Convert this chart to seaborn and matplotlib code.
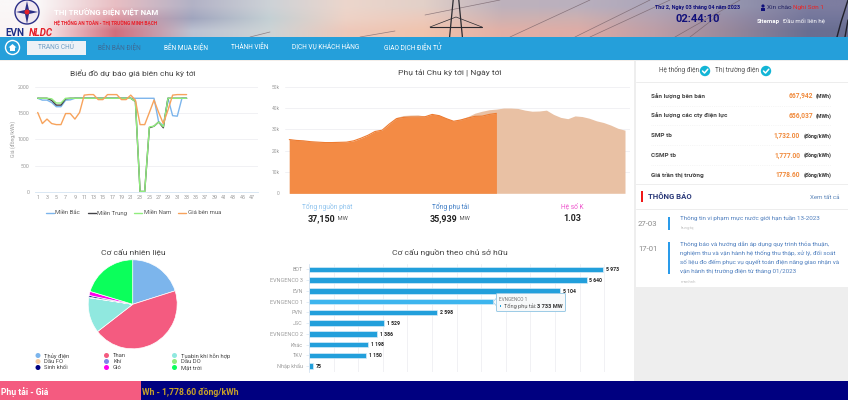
import numpy as np
import pandas as pd
import matplotlib
matplotlib.use("Agg")
import matplotlib.pyplot as plt
import seaborn as sns
from matplotlib.lines import Line2D
from matplotlib.patches import Rectangle, Circle, Polygon, FancyBboxPatch

# ==========================================================
# DATA
# ==========================================================

periods = list(range(1, 34))
mien_bac = [1780, 1745, 1745, 1700, 1620, 1620, 1745, 1750, 1780, 1780, 1780, 1780, 1780, 1780, 1780, 1780, 1780,
            1780, 1780, 1780, 1780, 1780, 1780, 1780, 1780, 1780, 1330, 1260, 1780, 1450, 1440, 1780, 1780]
mien_trung = [1780, 1780, 1780, 1740, 1650, 1650, 1770, 1780, 1780, 1780, 1780, 1780, 1780, 1780, 1780, 1780, 1780,
              1780, 1780, 1780, 1780, 1720, 10, 10, 1220, 1250, 1330, 1220, 1780, 1780, 1780, 1780, 1780]
mien_nam = [1780, 1780, 1780, 1770, 1690, 1690, 1780, 1780, 1780, 1780, 1780, 1780, 1780, 1780, 1780, 1780, 1780,
            1780, 1780, 1780, 1780, 1720, 10, 10, 1235, 1250, 1330, 1240, 1780, 1780, 1780, 1780, 1780]
gia_ben_mua = [1510, 1300, 1385, 1300, 1280, 1280, 1490, 1490, 1385, 1510, 1840, 1850, 1850, 1755, 1755, 1850, 1850,
               1850, 1755, 1755, 1840, 1745, 1280, 1280, 1510, 1745, 1510, 1300, 1555, 1840, 1850, 1850, 1850]
price_ticks = [1, 3, 5, 7, 9, 11, 13, 15, 17, 19, 21, 23, 25, 27, 29, 31, 33, 35, 37, 39, 41, 43, 45, 47]

load_forecast = [25.4, 25.0, 24.8, 24.4, 24.1, 24.0, 23.9, 24.0, 24.1, 24.2, 25.0, 27.2, 29.0, 29.6, 32.5, 35.6, 36.5,
                 36.7, 36.8, 36.2, 37.0, 36.6, 35.2, 34.0, 34.8, 36.0, 37.6, 38.5, 39.2, 39.5, 40.0, 40.0, 39.8, 39.0,
                 38.5, 38.6, 39.0, 37.0, 35.6, 35.0, 36.3, 36.0, 35.2, 34.0, 33.2, 32.0, 30.5, 29.6]
load_actual = [25.2, 24.8, 24.6, 24.2, 24.0, 23.8, 23.8, 23.9, 24.0, 24.6, 25.8, 27.2, 29.0, 29.6, 32.5, 35.0, 35.6,
               35.8, 35.8, 35.9, 37.0, 36.4, 35.0, 33.8, 34.4, 35.3, 36.1, 36.2, 37.0, 37.5]

fuel_labels = ["Thủy điện", "Than", "Tuabin khí hỗn hợp", "Dầu FO", "Khí", "Dầu DO", "Sinh khối", "Gió", "Mặt trời"]
fuel_values = [20.1, 44.4, 12.9, 0.0, 0.2, 0.0, 0.6, 1.5, 20.3]
fuel_colors = ["#7CB5EC", "#F45B80", "#90E8DF", "#F7CBA0", "#8085E9", "#90ED7D", "#000080", "#FF00EE", "#0BFF5B"]

owners = ["BOT", "EVNGENCO 3", "EVN", "EVNGENCO 1", "PVN", "JSC", "EVNGENCO 2", "Khác", "TKV", "Nhập khẩu"]
owner_mw = [5973, 5640, 5104, 3733, 2598, 1529, 1386, 1198, 1150, 75]
owner_text = ["5 973", "5 640", "5 104", "", "2 598", "1 529", "1 386", "1 198", "1 150", "75"]

market_rows = [("Sản lượng bên bán", "667,942", "(MWh)"), ("Sản lượng các cty điện lực", "656,037", "(MWh)"),
               ("SMP tb", "1,732.00", "(đồng/kWh)"), ("CSMP tb", "1,777.00", "(đồng/kWh)"),
               ("Giá trần thị trường", "1778.60", "(đồng/kWh)")]
nav_items = [("BÊN BÁN ĐIỆN", 119, "#3E6A95"), ("BÊN MUA ĐIỆN", 186, "white"), ("THÀNH VIÊN", 250, "white"),
             ("DỊCH VỤ KHÁCH HÀNG", 326, "white"), ("GIAO DỊCH ĐIỆN TỬ", 413, "white")]

# ==========================================================
# SETUP
# ==========================================================

W, H = 848, 400
sns.set_theme(style="white")
plt.rcParams["font.family"] = ["Roboto", "DejaVu Sans"]
GRID = "#EFEFF2"
TICK = "#9A9A9A"

fig = plt.figure(figsize=(W / 100, H / 100), dpi=100, facecolor="white")


def px_axes(x0, y0, x1, y1):
    ax = fig.add_axes([x0 / W, 1 - y1 / H, (x1 - x0) / W, (y1 - y0) / H])
    ax.patch.set_alpha(0)
    return ax


# page layer in pixel coordinates
bg = px_axes(0, 0, W, H)
bg.set_xlim(0, W)
bg.set_ylim(H, 0)
bg.axis("off")

# ----------------------------------------------------------
# header
# ----------------------------------------------------------
photo = np.array([
    [[250, 248, 248], [232, 190, 195], [178, 178, 198], [205, 210, 215], [236, 214, 204], [226, 208, 200], [190, 178, 188],
     [186, 176, 190], [172, 166, 186], [150, 150, 175], [125, 125, 160]],
    [[250, 246, 246], [222, 150, 160], [160, 165, 190], [196, 208, 212], [238, 210, 198], [236, 202, 188], [206, 178, 178],
     [206, 176, 176], [182, 162, 176], [150, 140, 165], [115, 118, 155]],
    [[250, 244, 244], [210, 110, 125], [190, 195, 210], [205, 212, 214], [238, 200, 186], [240, 196, 174], [226, 176, 166],
     [222, 172, 166], [190, 158, 166], [150, 135, 155], [105, 110, 145]],
], dtype=float) / 255
bg.imshow(photo, extent=(0, W, 37, 0), aspect="auto", interpolation="bilinear", zorder=0)
bg.set_xlim(0, W)
bg.set_ylim(H, 0)

for x0, y0, x1, y1 in [(510, 37, 590, 0), (575, 37, 650, 0), (590, 37, 670, 0), (675, 37, 740, 0),
                       (425, 15, 500, 0), (250, 37, 270, 32), (360, 37, 395, 31), (690, 37, 720, 14)]:
    bg.add_line(Line2D([x0, x1], [y0, y1], color="#6E5A62", lw=0.5, alpha=0.7, zorder=1))
for off in (-4, 4):
    bg.add_line(Line2D([456 + off * 1.6, 456 + off * 0.7], [37, 0], color="#2A2A30", lw=0.9, zorder=1))
bg.add_line(Line2D([430, 482], [27, 27], color="#2A2A30", lw=0.8, zorder=1))
bg.add_line(Line2D([430, 456, 482], [27, 17, 27], color="#2A2A30", lw=0.5, zorder=1))
bg.add_line(Line2D([837, 841, 848], [37, 22, 0], color="#20202A", lw=1.0, zorder=1))
bg.add_line(Line2D([845, 848], [37, 20], color="#20202A", lw=1.0, zorder=1))

bg.add_patch(Circle((27, 12), 12, fc="#F0E8F0", ec="#2B2F86", lw=1.0, zorder=2))
bg.add_patch(Polygon([(27, 1), (29, 10), (38, 12), (29, 14), (27, 24), (25, 14), (16, 12), (25, 10)],
                     fc="#2B2F86", ec="none", zorder=3))
bg.add_patch(Circle((27, 12), 2.5, fc="#E3202A", ec="none", zorder=4))
bg.text(5, 33, "EVN", color="#1F2F86", fontsize=7.2, fontweight="bold", va="center", zorder=3)
bg.text(29, 33, "NLDC", color="#E3202A", fontsize=7.0, fontweight="bold", style="italic", va="center", zorder=3)
bg.text(54, 12.5, "THỊ TRƯỜNG ĐIỆN VIỆT NAM", color="white", fontsize=5.7, fontweight="bold", va="center", zorder=3)
bg.text(54, 22.5, "HỆ THỐNG AN TOÀN - THỊ TRƯỜNG MINH BẠCH", color="#E8202A", fontsize=3.4, fontweight="bold",
        va="center", zorder=3)

bg.text(698, 8, "Thứ 2, Ngày 03 tháng 04 năm 2023", color="#10107A", fontsize=3.9, fontweight="bold", ha="center",
        va="center", zorder=3)
bg.text(698, 18.5, "02:44:10", color="#10107A", fontsize=8.0, fontweight="bold", ha="center", va="center", zorder=3)
bg.text(767, 7.5, "Xin chào", color="#202060", fontsize=4.6, va="center", zorder=3)
bg.text(793, 7.5, "Nghi Sơn 1", color="#F02020", fontsize=4.6, va="center", zorder=3)
bg.text(757, 21.5, "Sitemap", color="white", fontsize=4.4, fontweight="bold", va="center", zorder=3)
bg.text(783, 21.5, "Đầu mối liên hệ", color="white", fontsize=4.4, va="center", zorder=3)
bg.add_patch(Circle((763, 6), 1.6, fc="#10107A", ec="none", zorder=3))
bg.add_patch(Rectangle((761, 8), 4, 2.5, fc="#10107A", ec="none", zorder=3))

# ----------------------------------------------------------
# nav bar
# ----------------------------------------------------------
bg.add_patch(Rectangle((0, 37), W, 22.5, fc="#259FDA", ec="none", zorder=1))
bg.add_patch(Circle((12.5, 47.5), 7, fc="#259FDA", ec="white", lw=1.0, zorder=2))
bg.add_patch(Polygon([(8.5, 47.5), (12.5, 44), (16.5, 47.5), (15, 47.5), (15, 51), (10, 51), (10, 47.5)],
                     fc="white", ec="none", zorder=3))
bg.add_patch(Rectangle((26.5, 41), 59.5, 14, fc="#EDF1F6", ec="none", zorder=2))
bg.text(56, 47.5, "TRANG CHỦ", color="#6D9CC4", fontsize=4.7, ha="center", va="center", zorder=3)
for label, x, color in nav_items:
    bg.text(x, 47.5, label, color=color, fontsize=4.7, ha="center", va="center", zorder=3)

# ----------------------------------------------------------
# right column and footer
# ----------------------------------------------------------
bg.add_patch(Rectangle((0, 59.5), W, 1.5, fc="#F3EEEA", ec="none", zorder=1))
bg.add_patch(Rectangle((634, 60), 214, 321, fc="#EEEEEE", ec="none", zorder=1))
bg.add_patch(Rectangle((636, 61), 212, 122.5, fc="white", ec="none", zorder=2))
bg.add_patch(Rectangle((636, 185), 212, 102, fc="white", ec="none", zorder=2))

bg.text(659, 70.5, "Hệ thống điện", color="#555555", fontsize=4.7, va="center", zorder=3)
bg.text(715, 70.5, "Thị trường điện", color="#555555", fontsize=4.7, va="center", zorder=3)
for cx in (705, 766):
    bg.add_patch(Circle((cx, 71), 5.2, fc="#12B5D6", ec="none", zorder=3))
    bg.add_line(Line2D([cx - 2.5, cx - 0.5, cx + 2.8], [71, 73, 69.2], color="white", lw=1.1, zorder=4))
bg.add_line(Line2D([636, 848], [81.5, 81.5], color="#EDEDED", lw=0.7, zorder=3))

for i, (name, value, unit) in enumerate(market_rows):
    y = 95.7 + i * 19.8
    bg.text(651, y, name, color="#444444", fontsize=4.6, fontweight="bold", va="center", zorder=3)
    bg.text(831, y + 0.5, unit, color="#333333", fontsize=3.8, fontweight="bold", ha="right", va="center", zorder=3)
    unit_w = 18 if "MWh" in unit else 31
    bg.text(831 - unit_w, y + 0.5, value, color="#F08A3C", fontsize=4.8, fontweight="bold", ha="right", va="center",
            zorder=3)
    if i < 4:
        bg.add_line(Line2D([651, 831], [y + 9.8, y + 9.8], color="#EEEEEE", lw=0.5, ls=":", zorder=3))

bg.add_patch(Rectangle((641, 191), 2, 11, fc="#F01818", ec="none", zorder=3))
bg.text(647.5, 196.5, "THÔNG BÁO", color="#2B3A7A", fontsize=5.6, fontweight="bold", va="center", zorder=3)
bg.text(839, 197.5, "Xem tất cả", color="#5A84B8", fontsize=4.4, ha="right", va="center", zorder=3)
bg.add_line(Line2D([636, 848], [209, 209], color="#EDEDED", lw=0.7, zorder=3))
bg.text(638, 224, "27-03", color="#8A8A8A", fontsize=5.6, va="center", zorder=3)
bg.text(638, 249, "17-01", color="#8A8A8A", fontsize=5.6, va="center", zorder=3)
bg.add_patch(Rectangle((668, 217), 1.6, 12.5, fc="#2A9BEA", ec="none", zorder=3))
bg.add_patch(Rectangle((668, 242), 1.6, 32, fc="#2A9BEA", ec="none", zorder=3))
news = ["Thông tin vi phạm mực nước giới hạn tuần 13-2023", "Thông báo và hướng dẫn áp dụng quy trình thỏa thuận,",
        "nghiệm thu và vận hành hệ thống thu thập, xử lý, đối soát", "số liệu đo đếm phục vụ quyết toán điện năng giao nhận và",
        "vận hành thị trường điện từ tháng 01/2023"]
for line, y in zip(news, [218.5, 244, 253, 262, 271.5]):
    bg.text(680.5, y, line, color="#4F7FBE", fontsize=4.5, va="center", zorder=3)
bg.text(680.5, 228, "hungtq", color="#C4C4C4", fontsize=3.2, va="center", zorder=3)
bg.text(680.5, 282, "manhnh", color="#C4C4C4", fontsize=3.2, va="center", zorder=3)

bg.add_patch(Rectangle((0, 381), W, 19, fc="#000080", ec="none", zorder=2))
bg.add_patch(Rectangle((0, 381), 140.5, 19, fc="#F45B80", ec="none", zorder=3))
bg.text(1, 392, "Phụ tải - Giá", color="white", fontsize=6.2, fontweight="bold", va="center", zorder=4)
bg.text(141.5, 392, "Wh - 1,778.60 đồng/kWh", color="#C9A227", fontsize=6.2, fontweight="bold", va="center", zorder=4)

# ==========================================================
# PRICE FORECAST
# ==========================================================

ax1 = px_axes(35, 86.7, 258, 192)
price_df = pd.DataFrame({"period": periods, "Miền Bắc": mien_bac, "Miền Trung": mien_trung, "Miền Nam": mien_nam,
                         "Giá bên mua": gia_ben_mua}).melt("period", var_name="vung", value_name="gia")
price_colors = {"Miền Bắc": "#7CB5EC", "Miền Trung": "#434348", "Miền Nam": "#90ED7D", "Giá bên mua": "#F7A35C"}
sns.lineplot(data=price_df, x="period", y="gia", hue="vung", palette=price_colors, linewidth=1.0, ax=ax1, legend=False,
             errorbar=None)
ax1.set_xlim(0.42, 48.35)
ax1.set_ylim(0, 2000)
ax1.set_xticks(price_ticks)
ax1.set_yticks([0, 500, 1000, 1500, 2000])
ax1.tick_params(axis="x", labelsize=3.9, colors=TICK, length=0, pad=2)
ax1.tick_params(axis="y", labelsize=3.9, colors=TICK, length=0, pad=4)
ax1.grid(axis="y", color=GRID, lw=0.6)
ax1.set_axisbelow(True)
ax1.set_xlabel("")
ax1.set_ylabel("Giá (đồng/kWh)", fontsize=3.7, color=TICK, labelpad=1)
sns.despine(ax=ax1, left=True)
ax1.spines["bottom"].set_color("#D4E4F2")
ax1.spines["bottom"].set_linewidth(0.6)

bg.text(133, 73.5, "Biểu đồ dự báo giá biên chu kỳ tới", color="#444444", fontsize=6.0, ha="center", va="center",
        zorder=3)
for name, lx, tx in [("Miền Bắc", 46, 55), ("Miền Trung", 88, 97), ("Miền Nam", 134, 144), ("Giá bên mua", 178, 188)]:
    bg.add_line(Line2D([lx, lx + 8], [213, 213], color=price_colors[name], lw=1.0, zorder=3))
    bg.text(tx, 213, name, color="#555555", fontsize=4.3, va="center", zorder=3)

# ==========================================================
# LOAD CHART
# ==========================================================

ax2 = px_axes(285, 86.7, 630, 193.3)
forecast_x = np.arange(len(load_forecast))
actual_x = np.arange(len(load_actual))
ax2.fill_between(forecast_x, load_forecast, color="#E9C1A4", lw=0)
ax2.fill_between(actual_x, load_actual, color="#F38B45", lw=0)
sns.lineplot(x=actual_x, y=load_actual, color="#EE7B30", linewidth=0.8, ax=ax2, errorbar=None)
ax2.set_xlim(-0.6, 47.7)
ax2.set_ylim(0, 50)
ax2.set_yticks([0, 10, 20, 30, 40, 50])
ax2.set_yticklabels(["0", "10k", "20k", "30k", "40k", "50k"])
ax2.set_xticks([])
ax2.tick_params(labelsize=3.5, colors=TICK, length=0, pad=4)
ax2.grid(axis="y", color=GRID, lw=0.6)
ax2.set_axisbelow(True)
sns.despine(ax=ax2, left=True, bottom=True)

bg.text(450, 73.5, "Phụ tải Chu kỳ tới | Ngày tới", color="#444444", fontsize=6.1, ha="center", va="center", zorder=3)
for x, name, color, big, unit in [(327, "Tổng nguồn phát", "#90C4EE", "37,150", " MW"), (450, "Tổng phụ tải", "#3E7CC4", "35,939", " MW"),
                                  (572, "Hệ số K", "#EE55CC", "1.03", "")]:
    bg.text(x, 207, name, color=color, fontsize=4.8, ha="center", va="center", zorder=3)
    bg.text(x - (6 if unit else 0), 218.5, big, color="#222222", fontsize=6.4, fontweight="bold", ha="center", va="center", zorder=3)
    if unit:
        bg.text(x + 8.5, 219, unit, color="#555555", fontsize=4.2, va="center", zorder=3)

# ==========================================================
# FUEL PIE
# ==========================================================

ax3 = px_axes(88.2, 259.8, 177.2, 348.8)
ax3.pie(fuel_values, colors=fuel_colors, startangle=90, counterclock=False, radius=1.0,
        wedgeprops={"edgecolor": "white", "linewidth": 0.5})
ax3.set_xlim(-1, 1)
ax3.set_ylim(-1, 1)

bg.text(133, 252, "Cơ cấu nhiên liệu", color="#444444", fontsize=6.1, ha="center", va="center", zorder=3)
for i, (label, color) in enumerate(zip(fuel_labels, fuel_colors)):
    col, row = i % 3, i // 3
    cx = [38, 106.5, 174.5][col]
    cy = 355.5 + row * 6
    bg.add_patch(Circle((cx, cy), 2.5, fc=color, ec="none", zorder=3))
    bg.text(cx + 6.5, cy + 0.2, label, color="#444444", fontsize=4.2, va="center", zorder=3)

# ==========================================================
# OWNER BARS
# ==========================================================

ax4 = px_axes(309, 264, 630, 372)
owner_df = pd.DataFrame({"owner": owners, "mw": owner_mw})
bar_colors = ["#3DB5EE" if o == "EVNGENCO 1" else "#229FDB" for o in owners]
sns.barplot(data=owner_df, x="mw", y="owner", hue="owner", palette=bar_colors, width=0.5, ax=ax4, legend=False,
            saturation=1, edgecolor="#D5ECF8", linewidth=0.5)
ax4.set_xlim(0, 6524)
ax4.set_ylim(9.55, -0.5)
ax4.set_xticks(range(500, 6500, 500))
ax4.set_xticklabels([])
ax4.set_xlabel("")
ax4.set_ylabel("")
ax4.tick_params(axis="y", labelsize=3.9, colors=TICK, length=2.5, width=0.4, pad=2, color="#CCDDEE", left=True)
ax4.tick_params(axis="x", length=0)
ax4.grid(axis="x", color=GRID, lw=0.6)
ax4.set_axisbelow(True)
sns.despine(ax=ax4, bottom=True)
ax4.spines["left"].set_color("#CCDDEE")
ax4.spines["left"].set_linewidth(0.5)
for i, (val, txt) in enumerate(zip(owner_mw, owner_text)):
    if txt:
        ax4.text(val + 60, i + 0.03, txt, color="#222222", fontsize=3.7, fontweight="bold", va="center", clip_on=False)

bg.text(450, 252, "Cơ cấu nguồn theo chủ sở hữu", color="#444444", fontsize=6.1, ha="center", va="center", zorder=3)

# tooltip on top of the bars
tip = fig.add_axes([0, 0, 1, 1], zorder=10)
tip.set_xlim(0, W)
tip.set_ylim(H, 0)
tip.axis("off")
tip.add_patch(FancyBboxPatch((496.5, 293.5), 69, 18, boxstyle="round,pad=0,rounding_size=1", fc="#F7F9FA", ec="#9CCBE6", lw=0.7))
tip.add_patch(Polygon([(496.5, 298), (493, 302), (496.5, 306)], fc="#F7F9FA", ec="#9CCBE6", lw=0.5))
tip.text(499, 299.5, "EVNGENCO 1", color="#777777", fontsize=3.4, va="center")
tip.add_patch(Rectangle((499.5, 305), 1.6, 1.6, fc="#229FDB", ec="none"))
tip.text(503.5, 306, "Tổng phụ tải:", color="#555555", fontsize=4.1, va="center")
tip.text(537, 306, "3 733 MW", color="#333333", fontsize=4.1, fontweight="bold", va="center")

fig.savefig("out.png", dpi=100, facecolor="white")
